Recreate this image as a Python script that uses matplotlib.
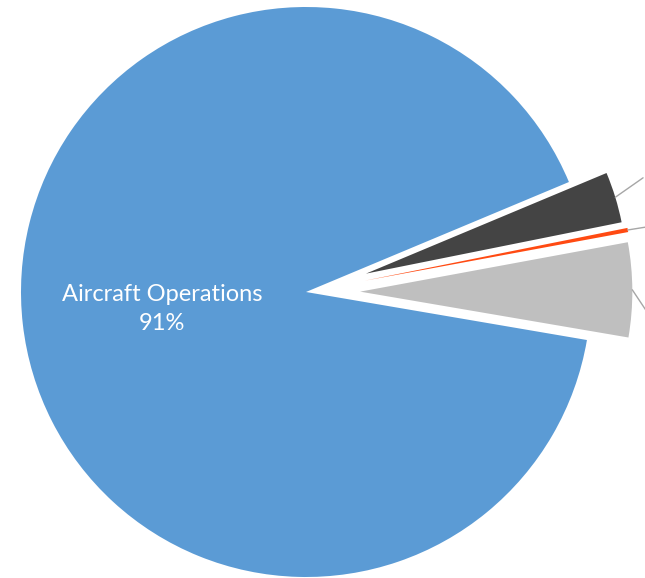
import numpy as np
import matplotlib
matplotlib.use("Agg")
import matplotlib.pyplot as plt

# Data
categories = ["Other A", "Other B", "Other C", "Aircraft Operations"]
shares = [5.6, 0.25, 3.15, 91.0]
colors = ["#BFBFBF", "#FF4A12", "#444444", "#5B9BD5"]
explode = [0.19, 0.21, 0.22, 0.0]
radii = [0.955, 0.94, 0.915, 1.0]

fig = plt.figure(figsize=(6.45, 5.78), dpi=100)
ax = fig.add_axes([0, 0, 1, 1])

wedges, _ = ax.pie(shares, colors=colors, explode=explode, startangle=-9.7,
                   counterclock=True, radius=1.0,
                   wedgeprops=dict(linewidth=0))
for w, r in zip(wedges, radii):
    w.set_radius(r)

# leader lines for the cut-off labels
leader_offsets = [(12, -18), (25, 4), (20, 14)]
for w, off in zip(wedges[:3], leader_offsets):
    th = np.deg2rad((w.theta1 + w.theta2) / 2)
    cx, cy = w.center
    px, py = cx + w.r * np.cos(th), cy + w.r * np.sin(th)
    ax.annotate("", xy=(px, py), xytext=off, textcoords="offset points",
                arrowprops=dict(arrowstyle="-", color="#A6A6A6", lw=1.0,
                                shrinkA=0, shrinkB=0),
                annotation_clip=False)

ax.text(-0.505, -0.06, "Aircraft Operations\n91%", ha="center", va="center",
        color="white", fontsize=17, family=["Lato", "DejaVu Sans"],
        linespacing=1.5)

ax.set_aspect("equal")
ax.set_xlim(-306 / 285, (645 - 306) / 285)
ax.set_ylim(-(578 - 292) / 285, 292 / 285)
ax.axis("off")

fig.savefig("out.png", dpi=100)
